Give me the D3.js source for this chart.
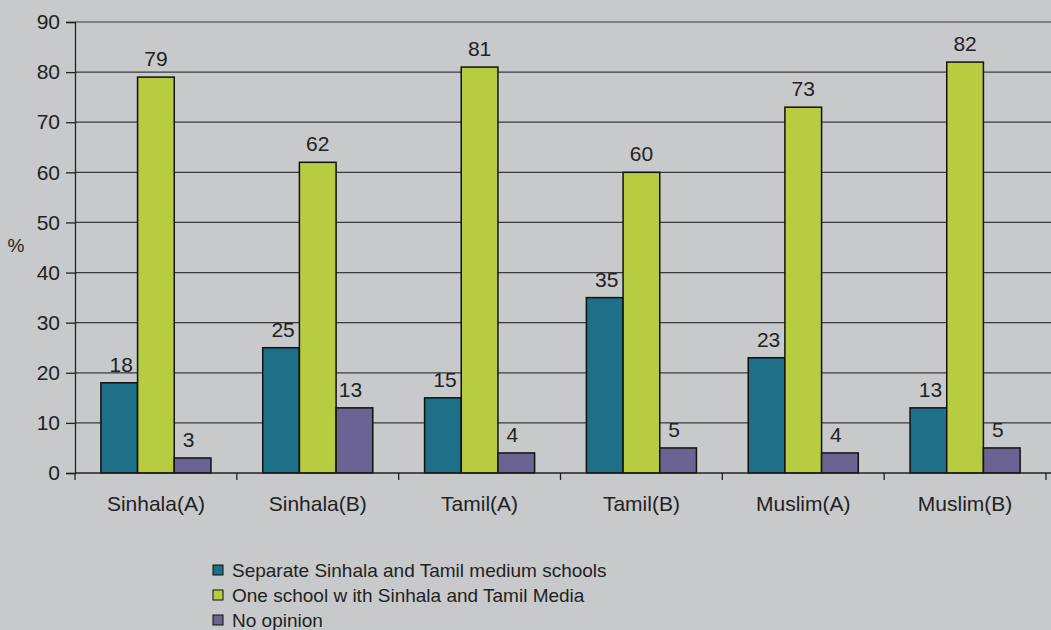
<!DOCTYPE html>
<html><head><meta charset="utf-8">
<script src="https://cdn.jsdelivr.net/npm/d3@7"></script>
<style>
html,body{margin:0;padding:0;background:#c8c9cb;}
svg{display:block;font-family:"Liberation Sans",Arial,sans-serif;}
</style></head>
<body><svg id="c" width="1051" height="630"></svg>
<script>
const categories = ["Sinhala(A)","Sinhala(B)","Tamil(A)","Tamil(B)","Muslim(A)","Muslim(B)"];
const seriesNames = ["Separate Sinhala and Tamil medium schools","One school w ith Sinhala and Tamil Media","No opinion"];
const separate = [18,25,15,35,23,13];
const oneSchool = [79,62,81,60,73,82];
const noOpinion = [3,13,4,5,4,5];
const yTicks = [0,10,20,30,40,50,60,70,80,90];
const colors = ["#1e6f88","#b7cc40","#6b6492"];

const series = [separate, oneSchool, noOpinion];
const svg = d3.select("#c");
svg.append("rect").attr("width",1051).attr("height",630).attr("fill","#c8c9cb");
const m = {l:75, r:5, t:22, b:157};
const W = 1051, H = 630;
const x0 = d3.scaleBand().domain(categories).range([m.l, W-m.r]).paddingInner(0.32).paddingOuter(0.16);
const xAxisScale = d3.scaleBand().domain(categories).range([m.l, W-m.r]);
const x1 = d3.scaleBand().domain([0,1,2]).range([0, x0.bandwidth()]);
const y = d3.scaleLinear().domain([0,90]).range([H-m.b, m.t]);

// gridlines
svg.append("g").selectAll("line").data(yTicks.filter(d=>d>0)).join("line")
  .attr("x1",m.l).attr("x2",W).attr("y1",d=>y(d)).attr("y2",d=>y(d))
  .attr("stroke","#3a3a3a").attr("stroke-width",1.2);

// y axis
const ya = svg.append("g").attr("transform",`translate(${m.l},0)`)
  .call(d3.axisLeft(y).tickValues(yTicks).tickSize(9).tickPadding(6));
ya.attr("font-size",null).attr("font-family",null);
ya.select(".domain").attr("stroke","#222").attr("stroke-width",1.3);
ya.selectAll(".tick line").attr("stroke","#222").attr("stroke-width",1.3);
ya.selectAll("text").style("font-size","21px").attr("fill","#222");

// bars
categories.forEach((c,i)=>{
  const g = svg.append("g").attr("transform",`translate(${x0(c)},0)`);
  series.forEach((s,j)=>{
    g.append("rect").attr("x",x1(j)).attr("width",x1.bandwidth())
      .attr("y",y(s[i])).attr("height",y(0)-y(s[i]))
      .attr("fill",colors[j]).attr("stroke","#111").attr("stroke-width",1.5);
    g.append("text").attr("x",x1(j)+x1.bandwidth()/2 - (j===1?0:(j===0?-2:4)))
      .attr("y",y(s[i])-11).attr("text-anchor","middle")
      .style("font-size","21px").attr("fill","#222").text(s[i]);
  });
});

// x axis
const xa = svg.append("g").attr("transform",`translate(0,${y(0)})`)
  .call(d3.axisBottom(xAxisScale).tickSize(0).tickPadding(23));
xa.attr("font-size",null).attr("font-family",null);
xa.select(".domain").attr("stroke","#222").attr("stroke-width",1.3).attr("d",`M${m.l},0H${W}`);
xa.selectAll("text").style("font-size","21px").attr("fill","#222");
svg.append("g").selectAll("line").data(categories.concat(["end"])).join("line")
  .attr("x1",(d,i)=>m.l+i*xAxisScale.bandwidth()).attr("x2",(d,i)=>m.l+i*xAxisScale.bandwidth())
  .attr("y1",y(0)).attr("y2",y(0)+7).attr("stroke","#222").attr("stroke-width",1.3);

// y label
svg.append("text").attr("x",16).attr("y",252).attr("text-anchor","middle")
  .style("font-size","19px").attr("fill","#222").text("%");

// legend
const lg = svg.append("g").attr("transform","translate(213,570)");
seriesNames.forEach((n,j)=>{
  lg.append("rect").attr("x",0).attr("y",j*25-5).attr("width",10).attr("height",10)
    .attr("fill",colors[j]).attr("stroke","#111").attr("stroke-width",1);
  lg.append("text").attr("x",19).attr("y",j*25+7).style("font-size","19px").attr("fill","#222").text(n);
});
</script></body></html>
